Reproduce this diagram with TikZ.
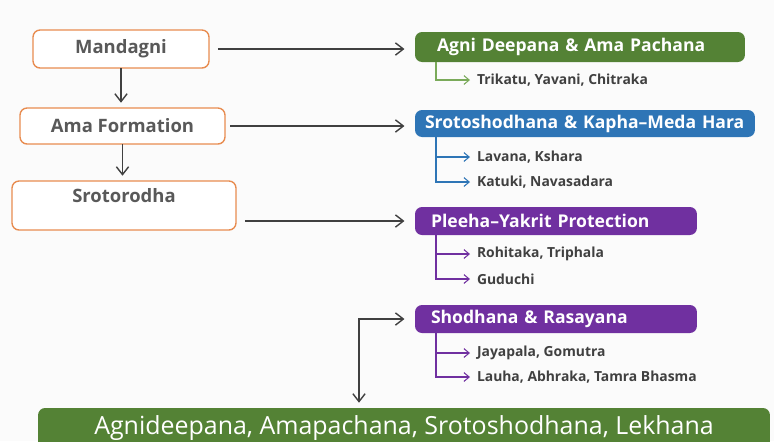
\documentclass[tikz,border=0pt]{standalone}
\usepackage{fontspec}
\setmainfont{Open Sans}
\usetikzlibrary{arrows.meta}
\definecolor{orng}{RGB}{232,140,80}
\definecolor{agrn}{RGB}{84,130,53}
\definecolor{lgrn}{RGB}{122,170,90}
\definecolor{sblu}{RGB}{46,117,182}
\definecolor{purp}{RGB}{112,48,160}
\definecolor{txtg}{RGB}{89,89,89}
\definecolor{arrg}{RGB}{64,64,64}

\begin{document}
\begin{tikzpicture}[x=0.02cm,y=-0.02cm,inner sep=2pt,outer sep=0pt,thick,
	cause/.style={draw=orng,fill=white,rounded corners=4pt,text=txtg,font=\fontsize{10.5}{12}\selectfont\bfseries},
	head/.style={rounded corners=4pt,anchor=west,align=left,text=white,inner ysep=0pt,font=\fontsize{10}{12}\selectfont\bfseries},
	drug/.style={anchor=west,inner xsep=4pt,text=arrg,font=\fontsize{7.9}{9}\selectfont\bfseries}]
	\fill[gray!3] (0,0) rectangle (774,441) ;
	\useasboundingbox (0,0) rectangle (774,441) ;
	\node[cause,minimum width=3.52cm,minimum height=0.76cm] (man) at (121,49) {Mandagni} ;
	\node[cause,minimum width=4.1cm,minimum height=0.72cm] (ama) at (122.5,126) {Ama Formation} ;
	\node[cause,minimum width=4.48cm,minimum height=0.98cm,text height=0.28cm,text depth=0.42cm] (sro) at (124,205.5) {Srotorodha} ;
	\node[head,fill=agrn,inner xsep=0.44cm,text width=5.72cm,minimum height=0.6cm] (agni) at (415,47) {Agni Deepana \& Ama Pachana} ;
	\node[head,fill=sblu,inner xsep=0.2cm,text width=6.4cm,minimum height=0.54cm] (srt) at (415,123.5) {\mbox{Srotoshodhana \& Kapha–Meda Hara}} ;
	\node[head,fill=purp,inner xsep=0.32cm,text width=5cm,minimum height=0.56cm] (ple) at (415,221) {Pleeha–Yakrit Protection} ;
	\node[head,fill=purp,inner xsep=0.32cm,text width=5cm,minimum height=0.56cm] (sho) at (415,319) {Shodhana \& Rasayana} ;
	\node[drug] (trk) at (470,80)  {Trikatu, Yavani, Chitraka} ;
	\node[drug] (lav) at (470,157) {Lavana, Kshara} ;
	\node[drug] (kat) at (470,182) {Katuki, Navasadara} ;
	\node[drug] (roh) at (470,254) {Rohitaka, Triphala} ;
	\node[drug] (gud) at (470,279) {Guduchi} ;
	\node[drug] (jay) at (470,353) {Jayapala, Gomutra} ;
	\node[drug] (lau) at (470,377) {Lauha, Abhraka, Tamra Bhasma} ;
	\node[fill=agrn,anchor=north,rounded corners=4pt,minimum width=14.64cm,inner ysep=0.16cm,text height=0.36cm,text depth=0.3cm,text=white,font=\fontsize{14.2}{17}\selectfont] (res) at (404,408) {Agnideepana, Amapachana, Srotoshodhana, Lekhana} ;
	\coordinate (k) at (359,319) ;
	\begin{scope}[->,>={Straight Barb[length=4.5pt,width=7pt]},arrg]
	\draw[shorten <=5pt,shorten >=6pt] (man.east) -- (man.east -| agni.west) ;
	\draw[shorten <=3pt,shorten >=6pt] (ama.east) -- (ama.east -| srt.west) ;
	\draw[shorten <=5pt,shorten >=6pt] (sro.east |- ple.west) -- (ple.west) ;
	\draw[shorten >=3pt] (man.south) -- (man.south |- ama.north) ;
	\draw[shorten >=3pt] (ama.south) -- (ama.south |- sro.north) ;
	\draw[<->,shorten <=6pt,shorten >=3pt] (sho.west) -- (k) -- (k |- res.north) ;
	\end{scope}
	\begin{scope}[->,>={Straight Barb[length=3pt,width=5pt]},semithick]
	\draw[lgrn] ([xshift=0.42cm]agni.south west) |- (trk.west) ;
	\draw[sblu] ([xshift=0.42cm]srt.south west) |- (lav.west) ;
	\draw[sblu] ([xshift=0.42cm]srt.south west) |- (kat.west) ;
	\draw[purp] ([xshift=0.42cm]ple.south west) |- (roh.west) ;
	\draw[purp] ([xshift=0.42cm]ple.south west) |- (gud.west) ;
	\draw[purp] ([xshift=0.42cm]sho.south west) |- (jay.west) ;
	\draw[purp] ([xshift=0.42cm]sho.south west) |- (lau.west) ;
	\end{scope}
\end{tikzpicture}
\end{document}
